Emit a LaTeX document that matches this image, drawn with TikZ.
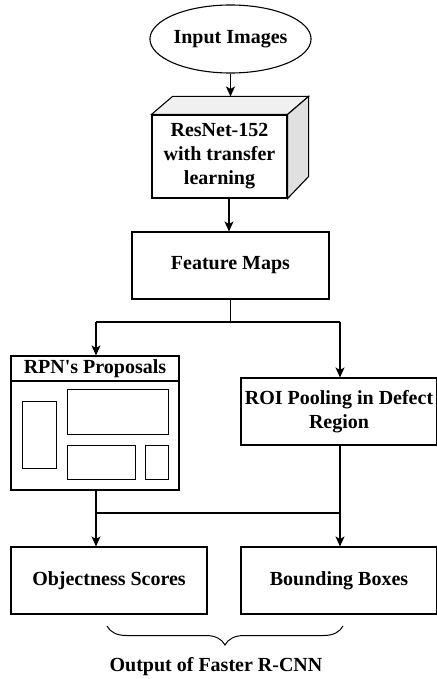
\documentclass[tikz,border=0pt]{standalone}
\usepackage{fontspec}
\setmainfont{Liberation Serif}
\usetikzlibrary{shapes.geometric,arrows.meta,calc,decorations.pathreplacing}
\begin{document}
\begin{tikzpicture}[x=1pt,y=-1pt,
  every node/.style={font=\fontsize{20}{24}\selectfont\bfseries, align=center, inner sep=0pt},
  box/.style={draw, line width=1.1pt, fill=white, rectangle},
  arr/.style={line width=1.1pt, -{Stealth[length=10pt,width=9pt,inset=2.5pt]}},
  ln/.style={line width=1.1pt},
  thin box/.style={draw, line width=1pt}
]
\useasboundingbox[fill=white] (0,0) rectangle (436,679);

% input
\node[draw, ellipse, line width=1.1pt, minimum width=135pt, minimum height=68pt] (input) at (230.5,39) {Input Images};

% backbone block drawn as a cube
\node[box, minimum width=135pt, minimum height=83pt] (res) at (219.5,156.5) {ResNet-152\\with transfer\\learning};
\draw[line width=1.1pt, fill=black!6]
  (res.north west) -- ($(res.north west)+(21pt,18pt)$) -- ($(res.north east)+(21pt,18pt)$) -- (res.north east) -- cycle;
\draw[line width=1.1pt, fill=black!12]
  (res.north east) -- ($(res.north east)+(21pt,18pt)$) -- ($(res.south east)+(21pt,22pt)$) -- (res.south east) -- cycle;
\coordinate (restop) at ($(res.north west)+(21pt,18pt)$);
\coordinate (resout) at ($(res.south)+(9.5pt,0)$);

\node[box, minimum width=197pt, minimum height=67pt] (fm) at (230.5,265.5) {Feature Maps};

% region proposal panel
\node[box, minimum width=168pt, minimum height=134pt] (rpn) at (95,423) {};
\draw[ln] (11,381) -- (179,381);
\node (rpnt) at (95,369) {RPN\textquotesingle s Proposals};
\draw[thin box] (22,401) rectangle (56,468);
\draw[thin box] (67,389) rectangle (168,434);
\draw[thin box] (67,445) rectangle (135,479);
\draw[thin box] (145,445) rectangle (168,479);

\node[box, minimum width=196pt, minimum height=67pt] (roi) at (339,411.5) {ROI Pooling in Defect\\Region};

\node[box, minimum width=196pt, minimum height=67pt] (obj) at (109,580.5) {Objectness Scores};
\node[box, minimum width=196pt, minimum height=67pt] (bb) at (339,580.5) {Bounding Boxes};

% connectors
\coordinate (split) at (230.5,322);
\coordinate (splitl) at (96,322);
\coordinate (splitr) at (340,322);
\coordinate (merge) at (96,513);
\coordinate (merger) at (340,513);
\draw[arr] (input.south) -- (input.south |- restop);
\draw[arr] (resout) -- (resout |- fm.north);
\draw[ln] (fm.south) -- (split);
\draw[ln] (splitl) -- (splitr);
\draw[arr] (splitl) -- (splitl |- rpn.north);
\draw[arr] (splitr) -- (splitr |- roi.north);
\draw[arr] (splitl |- rpn.south) -- (splitl |- obj.north);
\draw[arr] (splitr |- roi.south) -- (splitr |- bb.north);
\draw[ln] (merge) -- (merger);

% output brace
\draw[line width=1pt, decorate, decoration={brace, amplitude=19pt}] (343,626) -- (107,626);
\node (out) at (216,667) {Output of Faster R-CNN};
\end{tikzpicture}
\end{document}
